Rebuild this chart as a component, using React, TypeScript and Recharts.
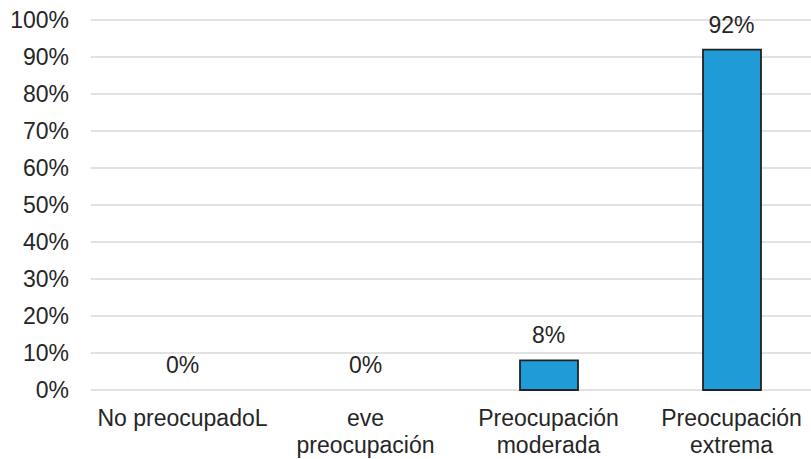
import { ComposedChart, Bar, Line, XAxis, YAxis, CartesianGrid, LabelList } from 'recharts'

// Category labels, '\n' marks the line break under the axis
const categories = ['No preocupadoL', 'eve\npreocupación', 'Preocupación\nmoderada', 'Preocupación\nextrema']
const percentages = [0, 0, 8, 92]
const yTicks = [0, 10, 20, 30, 40, 50, 60, 70, 80, 90, 100]

const data = categories.map((name, i) => ({ name, value: percentages[i] }))

const FONT = '"Liberation Sans", Arial, sans-serif'
const TEXT = '#262626'

function CategoryTick(props: any) {
  const { x, y, payload } = props
  const lines = String(payload.value).split('\n')
  return (
    <text x={x} y={y} textAnchor="middle" fill={TEXT} fontFamily={FONT} fontSize={23}>
      {lines.map((line, i) => (
        <tspan key={i} x={x} dy={i === 0 ? 28 : 27}>
          {line}
        </tspan>
      ))}
    </text>
  )
}

export default function App() {
  return (
    <div style={{ position: 'fixed', left: 0, top: 0, width: 811, height: 459, overflow: 'hidden', background: '#fff' }}>
      <ComposedChart
        width={823}
        height={459}
        data={data}
        margin={{ top: 20, right: 0, left: 0, bottom: 0 }}
        barSize={58}
      >
        <CartesianGrid vertical={false} stroke="#d9d9d9" strokeWidth={1.5} />
        <XAxis
          dataKey="name"
          axisLine={false}
          tickLine={false}
          height={69}
          interval={0}
          tick={<CategoryTick />}
        />
        <YAxis
          width={91}
          domain={[0, 100]}
          ticks={yTicks}
          interval={0}
          axisLine={false}
          tickLine={false}
          tickMargin={16}
          tickFormatter={(v) => `${v}%`}
          tick={{ fill: TEXT, fontSize: 23, fontFamily: FONT }}
        />
        <Bar dataKey="value" fill="#1f9bd7" stroke="#222" strokeWidth={1.8} isAnimationActive={false} />
        {/* invisible line only to carry the value labels, so 0% values get one too */}
        <Line dataKey="value" stroke="none" dot={false} activeDot={false} isAnimationActive={false}>
          <LabelList
            dataKey="value"
            position="top"
            offset={17}
            formatter={(v: any) => `${v}%`}
            fill={TEXT}
            fontSize={23}
            fontFamily={FONT}
          />
        </Line>
      </ComposedChart>
    </div>
  )
}
